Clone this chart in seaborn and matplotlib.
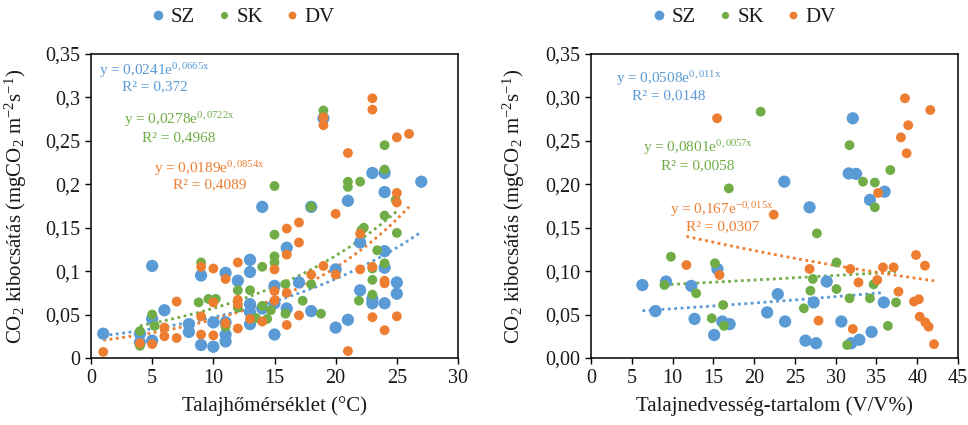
import numpy as np
import pandas as pd
import matplotlib
matplotlib.use("Agg")
import matplotlib.pyplot as plt
from matplotlib.lines import Line2D
from matplotlib.ticker import FuncFormatter, MultipleLocator
import seaborn as sns

# ---- soil temperature (°C) vs CO2 efflux ----
temp_sz_x = [1, 4, 4, 5, 5, 5, 6, 8, 8, 9, 9, 10, 10, 11, 11, 11, 11, 12, 13, 13, 13, 13, 13,
             14, 14, 15, 15, 15, 16, 16, 17, 18, 18, 19, 20, 20, 21, 21, 22, 22, 23, 23, 23,
             24, 24, 24, 24, 24, 25, 25, 27]
temp_sz_y = [0.028, 0.028, 0.018, 0.106, 0.045, 0.020, 0.055, 0.039, 0.030, 0.095, 0.015, 0.041,
             0.013, 0.098, 0.041, 0.027, 0.019, 0.089, 0.113, 0.099, 0.062, 0.053, 0.039, 0.174,
             0.057, 0.083, 0.063, 0.027, 0.127, 0.057, 0.087, 0.174, 0.054, 0.276, 0.102, 0.035,
             0.181, 0.044, 0.133, 0.078, 0.213, 0.068, 0.063, 0.213, 0.191, 0.123, 0.104, 0.063,
             0.087, 0.074, 0.203]
temp_sk_x = [4, 4, 5, 5.2, 8.8, 9, 9.6, 10.2, 11, 12, 12, 13, 13.5, 14, 14, 14.4, 14.7, 15, 15,
             15, 15, 15.9, 15.9, 17.3, 18, 18, 18.8, 19, 21, 21, 21.9, 22, 22.1, 22.3, 23, 23, 23,
             23.4, 24, 24, 24, 24, 24.9, 25]
temp_sk_y = [0.031, 0.014, 0.050, 0.037, 0.064, 0.110, 0.068, 0.068, 0.036, 0.078, 0.058, 0.078,
             0.046, 0.105, 0.060, 0.045, 0.055, 0.198, 0.142, 0.117, 0.110, 0.085, 0.051, 0.066,
             0.174, 0.085, 0.051, 0.285, 0.203, 0.197, 0.066, 0.203, 0.147, 0.150, 0.103, 0.090,
             0.073, 0.124, 0.245, 0.217, 0.164, 0.109, 0.182, 0.144]
temp_dv_x = [1, 4, 5, 6, 6, 7, 7, 9, 9, 9, 10, 10, 10, 11, 11, 12, 12, 12, 12, 13, 14, 15, 15, 15,
             16, 16, 16, 16, 17, 17, 17, 18, 19, 19, 19, 20, 20, 21, 21, 22, 22, 23, 23, 23, 23,
             24, 24, 24, 25, 25, 25, 25, 26]
temp_dv_y = [0.007, 0.017, 0.016, 0.035, 0.025, 0.065, 0.023, 0.105, 0.048, 0.027, 0.103, 0.064,
             0.026, 0.091, 0.040, 0.110, 0.067, 0.062, 0.034, 0.045, 0.042, 0.102, 0.077, 0.066,
             0.149, 0.119, 0.075, 0.038, 0.156, 0.133, 0.049, 0.096, 0.277, 0.268, 0.106, 0.166,
             0.096, 0.236, 0.008, 0.143, 0.102, 0.299, 0.286, 0.105, 0.047, 0.089, 0.086, 0.032,
             0.254, 0.190, 0.179, 0.048, 0.258]

# ---- soil moisture (V/V%) vs CO2 efflux ----
moist_sz_x = [6.3, 7.9, 9.2, 12.3, 12.7, 15.1, 15.5, 16.1, 17.0, 21.6, 22.9, 23.8, 23.7, 26.3,
              26.8, 27.3, 27.6, 28.9, 30.7, 31.9, 32.9, 34.4, 35.9, 32.1, 31.6, 32.5, 34.2, 36.0]
moist_sz_y = [0.084, 0.054, 0.088, 0.083, 0.045, 0.0265, 0.1025, 0.042, 0.039, 0.0525, 0.0735,
              0.042, 0.203, 0.020, 0.1735, 0.064, 0.017, 0.088, 0.042, 0.017, 0.021, 0.030, 0.064,
              0.276, 0.2125, 0.212, 0.182, 0.1915]
moist_sk_x = [9.0, 9.8, 12.9, 14.8, 15.2, 16.2, 16.3, 16.9, 20.8, 26.1, 26.9, 27.2, 27.7, 30.1,
              30.1, 31.4, 31.7, 31.7, 33.35, 34.2, 34.65, 34.8, 34.8, 36.4, 36.7, 37.4]
moist_sk_y = [0.084, 0.1166, 0.0745, 0.0457, 0.109, 0.061, 0.037, 0.1953, 0.2836, 0.0572, 0.0775,
              0.091, 0.1435, 0.110, 0.0794, 0.015, 0.0687, 0.245, 0.203, 0.0687, 0.0848, 0.202,
              0.1735, 0.037, 0.2164, 0.064]
moist_dv_x = [11.7, 15.46, 15.75, 22.4, 26.8, 27.9, 31.8, 32.1, 32.8, 35.1, 35.2, 35.8, 37.1,
              37.7, 38.0, 38.5, 38.7, 38.9, 39.6, 39.85, 40.2, 40.3, 40.95, 41.0, 41.4, 41.6, 42.06]
moist_dv_y = [0.107, 0.276, 0.0956, 0.165, 0.1025, 0.043, 0.1025, 0.0334, 0.087, 0.0898, 0.190,
              0.1044, 0.1044, 0.0764, 0.254, 0.299, 0.2357, 0.268, 0.065, 0.1186, 0.0676, 0.0476,
              0.1063, 0.041, 0.036, 0.2855, 0.016]

# exponential trendlines y = a * exp(b x) and their R²
series = ["SZ", "SK", "DV"]
temp_a = [0.0241, 0.0278, 0.0189]
temp_b = [0.0665, 0.0722, 0.0854]
temp_r2 = ["0,372", "0,4968", "0,4089"]
moist_a = [0.0508, 0.0801, 0.167]
moist_b = [0.011, 0.0057, -0.015]
moist_r2 = ["0,0148", "0,0058", "0,0307"]
temp_eq = [("0,0241", "0,0665x"), ("0,0278", "0,0722x"), ("0,0189", "0,0854x")]
moist_eq = [("0,0508", "0,011x"), ("0,0801", "0,0057x"), ("0,167", "-0,015x")]

colors = {"SZ": "#5B9BD5", "SK": "#70AD47", "DV": "#ED7D31"}
sizes = {"SZ": 78, "SK": 50, "DV": 50}

sns.set_theme(style="white")
plt.rcParams["font.family"] = ["Liberation Serif", "DejaVu Serif"]
plt.rcParams["mathtext.fontset"] = "custom"
plt.rcParams["mathtext.rm"] = "Liberation Serif"
plt.rcParams["mathtext.it"] = "Liberation Serif:italic"
plt.rcParams["mathtext.bf"] = "Liberation Serif:bold"

W, H = 968, 425
fig = plt.figure(figsize=(W / 100, H / 100), dpi=100)
ax1 = fig.add_axes([91 / W, 67 / H, 367 / W, 304 / H])
ax2 = fig.add_axes([591 / W, 67 / H, 367 / W, 304 / H])


def long_frame(xs, ys):
    rows = []
    for name, x, y in zip(series, xs, ys):
        rows.append(pd.DataFrame({"x": x, "y": y, "series": name}))
    return pd.concat(rows, ignore_index=True)


def draw_panel(ax, df, a_list, b_list, eqs, r2s, eq_pos, xmax, xlabel, yfmt):
    sns.scatterplot(data=df, x="x", y="y", hue="series", size="series",
                    palette=colors, sizes=sizes, linewidth=0, alpha=1.0,
                    legend=False, ax=ax, zorder=3)
    for name, a, b in zip(series, a_list, b_list):
        sub = df[df["series"] == name]
        xx = np.linspace(sub["x"].min(), sub["x"].max(), 100)
        trend = pd.DataFrame({"x": xx, "y": a * np.exp(b * xx)})
        sns.lineplot(data=trend, x="x", y="y", ax=ax, color=colors[name],
                     linewidth=2.0, linestyle=(0, (1, 1.3)), zorder=2)
    for name, (ca, cb), r2, (px, py1, py2) in zip(series, eqs, r2s, eq_pos):
        ax.text(px, py1, "y = %se$^{\\mathregular{%s}}$" % (ca, cb), transform=ax.transAxes,
                ha="center", va="center", fontsize=11, color=colors[name])
        ax.text(px, py2, "R² = %s" % r2, transform=ax.transAxes,
                ha="center", va="center", fontsize=11, color=colors[name])

    ax.set_xlim(0, xmax)
    ax.set_ylim(0, 0.35)
    ax.xaxis.set_major_locator(MultipleLocator(5))
    ax.yaxis.set_major_locator(MultipleLocator(0.05))
    ax.yaxis.set_major_formatter(FuncFormatter(yfmt))
    ax.tick_params(axis="both", which="major", direction="out", length=4.5, width=1.0,
                   color="black", labelsize=14.5, labelcolor="#1a1a1a", pad=3.5,
                   bottom=True, left=True)
    for sp in ax.spines.values():
        sp.set_visible(True)
        sp.set_color("black")
        sp.set_linewidth(1.1)
    ax.set_xlabel(xlabel, fontsize=15, color="#1a1a1a", labelpad=6)
    ax.set_ylabel("CO$_2$ kibocsátás (mgCO$_2$ m$^{-2}$s$^{-1}$)", fontsize=15,
                  color="#1a1a1a")
    ax.grid(False)


def fmt_general(v, pos):
    s = ("%.2f" % v).rstrip("0").rstrip(".")
    return s.replace(".", ",")


def fmt_fixed(v, pos):
    return ("%.2f" % v).replace(".", ",")


df_t = long_frame([temp_sz_x, temp_sk_x, temp_dv_x], [temp_sz_y, temp_sk_y, temp_dv_y])
df_m = long_frame([moist_sz_x, moist_sk_x, moist_dv_x], [moist_sz_y, moist_sk_y, moist_dv_y])

draw_panel(ax1, df_t, temp_a, temp_b, temp_eq, temp_r2,
           [(0.173, 0.947, 0.893), (0.240, 0.783, 0.726), (0.323, 0.624, 0.569)],
           30, "Talajhőmérséklet (°C)", fmt_general)
draw_panel(ax2, df_m, moist_a, moist_b, moist_eq, moist_r2,
           [(0.211, 0.920, 0.862), (0.292, 0.691, 0.632), (0.358, 0.487, 0.431)],
           45, "Talajnedvesség-tartalom (V/V%)", fmt_fixed)

ax1.yaxis.set_label_coords(-0.168, 0.5)
ax2.yaxis.set_label_coords(-0.175, 0.5)

legend_ms = {"SZ": 7.0, "SK": 5.2, "DV": 5.6}
for ax, cx in [(ax1, 241), (ax2, 742)]:
    handles = [Line2D([], [], marker="o", linestyle="", markersize=legend_ms[n],
                      markerfacecolor=colors[n], markeredgewidth=0, label=n) for n in series]
    ax.legend(handles=handles, loc="center", bbox_to_anchor=(cx / W, 1 - 17 / H),
              bbox_transform=fig.transFigure, ncol=3, frameon=False, fontsize=15,
              handletextpad=0.1, columnspacing=0.9, handlelength=1.0,
              labelcolor="#1a1a1a")

fig.savefig("out.png", dpi=100, facecolor="white")
